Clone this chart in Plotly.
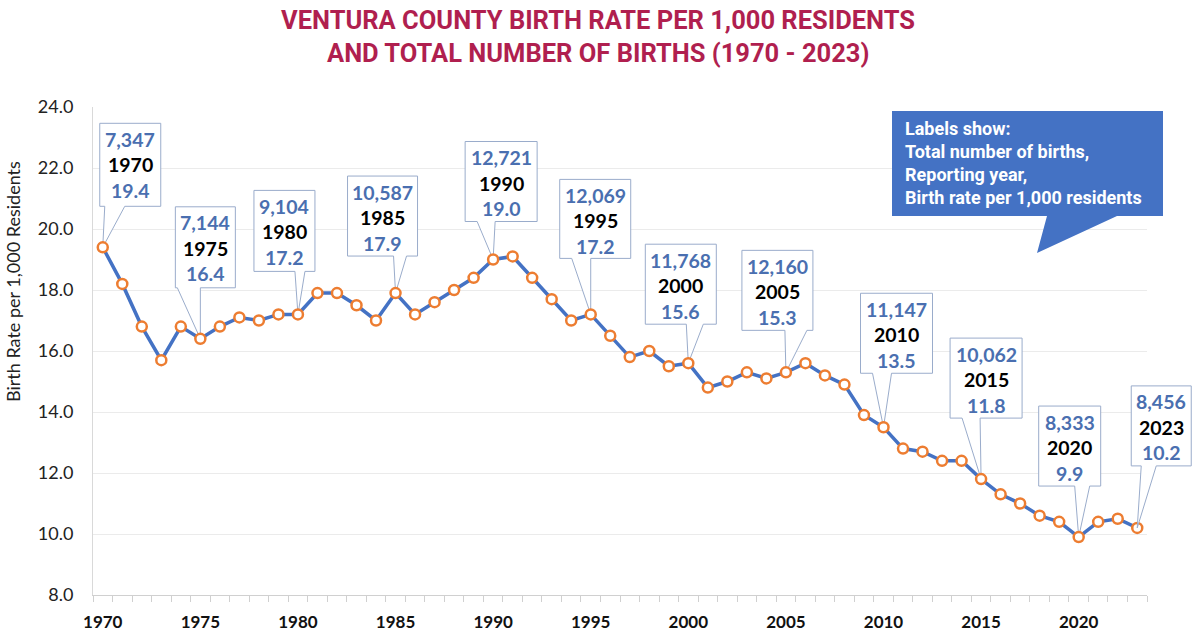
import plotly.graph_objects as go

# ---------------- data ----------------
years = list(range(1970, 2024))
birth_rate = [19.4, 18.2, 16.8, 15.7, 16.8, 16.4, 16.8, 17.1, 17.0, 17.2,
              17.2, 17.9, 17.9, 17.5, 17.0, 17.9, 17.2, 17.6, 18.0, 18.4,
              19.0, 19.1, 18.4, 17.7, 17.0, 17.2, 16.5, 15.8, 16.0, 15.5,
              15.6, 14.8, 15.0, 15.3, 15.1, 15.3, 15.6, 15.2, 14.9, 13.9,
              13.5, 12.8, 12.7, 12.4, 12.4, 11.8, 11.3, 11.0, 10.6, 10.4,
              9.9, 10.4, 10.5, 10.2]
label_years = [1970, 1975, 1980, 1985, 1990, 1995, 2000, 2005, 2010, 2015, 2020, 2023]
label_births = ["7,347", "7,144", "9,104", "10,587", "12,721", "12,069",
                "11,768", "12,160", "11,147", "10,062", "8,333", "8,456"]
x_tick_years = [1970, 1975, 1980, 1985, 1990, 1995, 2000, 2005, 2010, 2015, 2020]
title_lines = ["VENTURA COUNTY BIRTH RATE PER 1,000 RESIDENTS",
               "AND TOTAL NUMBER OF BIRTHS (1970 - 2023)"]
y_title = "Birth Rate per 1,000 Residents"
legend_lines = ["Labels show:", "Total number of births,", "Reporting year,",
                "Birth rate per 1,000 residents"]

# ---------------- styling / geometry ----------------
W, H = 1200, 636
ML, MR, MT, MB = 93, 53, 107, 41
X_RANGE = [1969.5, 2023.5]
Y_RANGE = [8, 24]
BLUE = "#4472C4"
ORANGE = "#ED7D31"
NUM_BLUE = "#4a6fb0"
TITLE_RED = "#b01f4f"
BOX_LINE = "#9aaccb"

# callout geometry, pixels relative to the point (left, right, top-above, bottom-above, wedge x1, wedge x2)
callout_geom = {
    1970: (-3, 58, 124, 41, 2, 22),
    1975: (-25, 35, 132, 51, -23, 0),
    1980: (-44, 17, 124, 43, -3, 7),
    1985: (-48, 22, 117, 37, -2, 11),
    1990: (-28, 44, 118, 38, -16, 2),
    1995: (-31, 40, 135, 56, -19, 0),
    2000: (-43, 28, 119, 39, -2, 15),
    2005: (-44, 27, 122, 42, -1, 21),
    2010: (-23, 49, 134, 54, -11, 8),
    2015: (-31, 41, 141, 61, -19, -1),
    2020: (-40, 22, 131, 51, -4, 11),
    2023: (-6, 54, 142, 62, 4, 19),
}

rate_by_year = dict(zip(years, birth_rate))

fig = go.Figure()
fig.add_trace(go.Scatter(
    x=years, y=birth_rate, mode="lines+markers",
    line=dict(color=BLUE, width=3.5),
    marker=dict(symbol="circle", size=10, color="white",
                line=dict(color=ORANGE, width=2.5)),
    hoverinfo="x+y", showlegend=False))

shapes = []
annotations = []

plot_w = W - ML - MR
plot_h = H - MT - MB


def to_paper_x(v):
    return (v - X_RANGE[0]) / (X_RANGE[1] - X_RANGE[0])


def to_paper_y(v):
    return (v - Y_RANGE[0]) / (Y_RANGE[1] - Y_RANGE[0])


for yr, births in zip(label_years, label_births):
    rate = rate_by_year[yr]
    L, R, T, B, w1, w2 = callout_geom[yr]
    path = (f"M {L},{T} L {R},{T} L {R},{B} L {w2},{B} L 0,0 "
            f"L {w1},{B} L {L},{B} Z")
    outside = yr == 2023
    shape = dict(type="path", path=path,
                 xsizemode="pixel", ysizemode="pixel",
                 fillcolor="white", line=dict(color=BOX_LINE, width=1))
    if outside:
        shape.update(xref="paper", yref="paper",
                     xanchor=to_paper_x(yr), yanchor=to_paper_y(rate), layer="above")
    else:
        shape.update(xref="x", yref="y", xanchor=yr, yanchor=rate, layer="between")
    shapes.append(shape)
    cx = (L + R) / 2
    texts = [(births, NUM_BLUE), (str(yr), "black"), (f"{rate:.1f}", NUM_BLUE)]
    for i, (t, c) in enumerate(texts):
        annotations.append(dict(
            x=yr, y=rate, xref="x", yref="y", showarrow=False,
            text=f"<b>{t}</b>", font=dict(family="Lato", size=19.5, color=c),
            xshift=cx, yshift=T - 16 - 25.5 * i,
            xanchor="center", yanchor="middle"))

# legend callout (blue box), paper coordinates derived from pixel layout
def px_to_paper_x(px):
    return (px - ML) / plot_w


def px_to_paper_y(py):
    return (H - MB - py) / plot_h


bx0, bx1, by0, by1 = 892, 1163, 111, 216
tri = [(1047, 216), (1037, 253), (1117, 216)]
lp = (f"M {px_to_paper_x(bx0)},{px_to_paper_y(by0)} L {px_to_paper_x(bx1)},{px_to_paper_y(by0)} "
      f"L {px_to_paper_x(bx1)},{px_to_paper_y(by1)} L {px_to_paper_x(tri[2][0])},{px_to_paper_y(tri[2][1])} "
      f"L {px_to_paper_x(tri[1][0])},{px_to_paper_y(tri[1][1])} L {px_to_paper_x(tri[0][0])},{px_to_paper_y(tri[0][1])} "
      f"L {px_to_paper_x(bx0)},{px_to_paper_y(by1)} Z")
shapes.append(dict(type="path", xref="paper", yref="paper", path=lp,
                   fillcolor=BLUE, line=dict(width=0), layer="above"))
for i, t in enumerate(legend_lines):
    annotations.append(dict(
        xref="paper", yref="paper", x=px_to_paper_x(903), y=px_to_paper_y(128 + 23 * i),
        text=f"<b>{t}</b>", showarrow=False, xanchor="left", yanchor="middle",
        font=dict(family="Roboto", size=18, color="white")))

# title lines
for i, t in enumerate(title_lines):
    annotations.append(dict(
        xref="paper", yref="paper", x=px_to_paper_x(598), y=px_to_paper_y(20 + 33 * i),
        text=f"<b>{t}</b>", showarrow=False, xanchor="center", yanchor="middle",
        font=dict(family="Roboto", size=25.5, color=TITLE_RED)))

# y axis title
annotations.append(dict(
    xref="paper", yref="paper", x=px_to_paper_x(13), y=px_to_paper_y(282),
    text=y_title, showarrow=False, textangle=-90, xanchor="center", yanchor="middle",
    font=dict(family="Lato", size=18, color="#222")))

fig.update_layout(
    width=W, height=H,
    margin=dict(l=ML, r=MR, t=MT, b=MB, autoexpand=False),
    paper_bgcolor="white", plot_bgcolor="white",
    shapes=shapes, annotations=annotations,
    xaxis=dict(range=X_RANGE, tickvals=x_tick_years, ticks="", showgrid=False,
               showline=True, linecolor="#d0d0d0", linewidth=1,
               tickfont=dict(family="Lato", size=17, color="#111", weight="bold"),
               ticklabelstandoff=12, zeroline=False,
               minor=dict(ticks="outside", tick0=1969.5, dtick=1, ticklen=6,
                          tickcolor="#d0d0d0", showgrid=False)),
    yaxis=dict(range=Y_RANGE, dtick=2, tickformat=".1f", ticks="",
               showgrid=True, gridcolor="#ebebeb", gridwidth=1,
               showline=True, linecolor="#d9d9d9", zeroline=False,
               tickfont=dict(family="Lato", size=18, color="#222"),
               ticklabelstandoff=15),
)

fig.write_html("out.html", config={"displayModeBar": False},
               post_script="document.body.style.margin='0';document.body.style.padding='0';")
